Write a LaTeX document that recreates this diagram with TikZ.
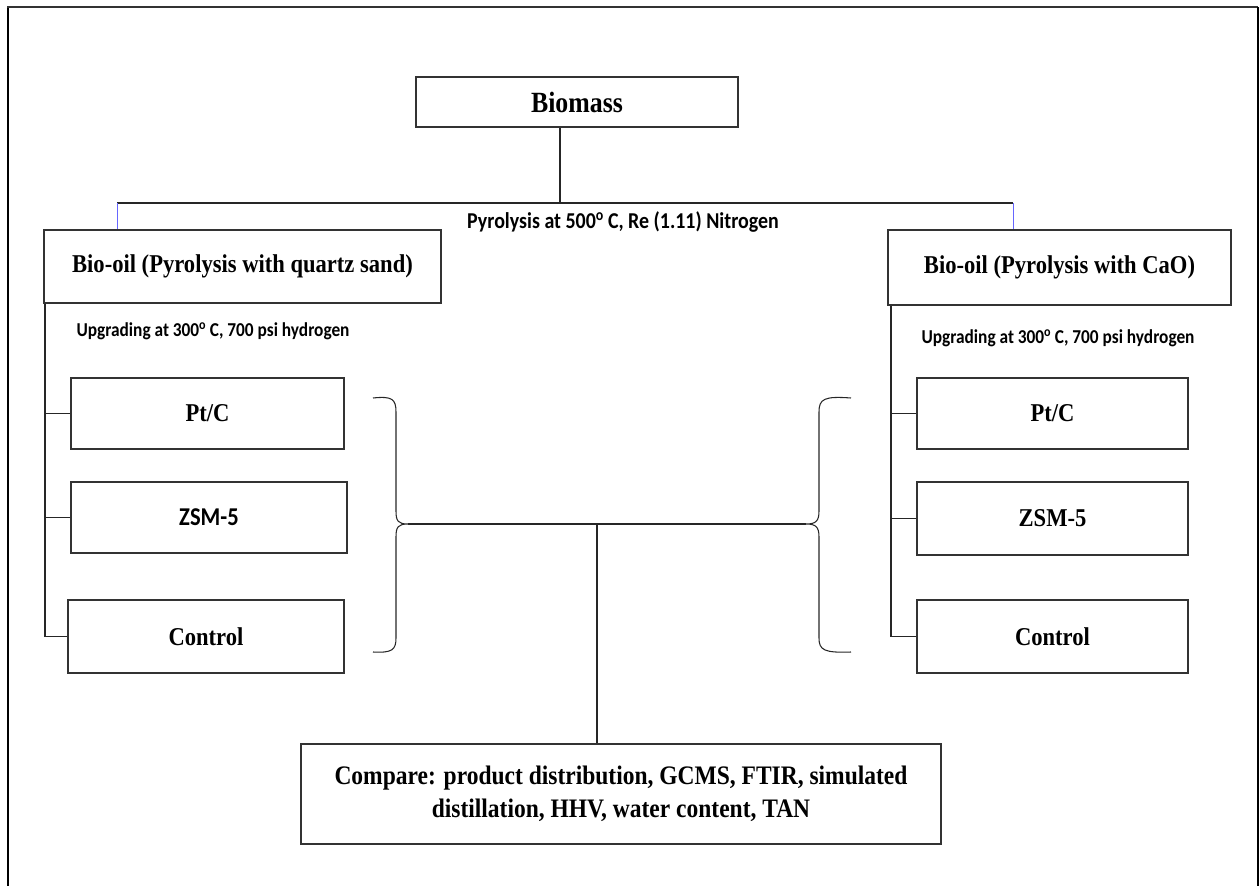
\documentclass[tikz,border=0pt]{standalone}
\usepackage{fontspec}
\setmainfont{Liberation Serif}[FakeStretch=0.88]
\newfontfamily\calibri{Carlito}[FakeStretch=0.88]
\begin{document}
\begin{tikzpicture}[x=0.02cm, y=-0.02cm,
    box/.style={draw=black!80, line width=0.8pt, inner sep=0pt, align=center,
      font=\fontsize{14.6}{18}\selectfont\bfseries},
    lbl/.style={font=\calibri\bfseries\fontsize{11.2}{14}\selectfont},
    link/.style={black!85, line width=0.7pt}]
  \useasboundingbox (0,0) rectangle (1259,886);
  % outer frame (open at the bottom)
  \draw[line width=1.4pt] (8,886) -- (8,7);
  \draw[line width=1.1pt, black!80] (7,7) -- (1258,7);
  \draw[line width=0.8pt] (1258,7) -- (1258,886);

  % top: biomass and the two bio-oils
  \node[box, font=\fontsize{16.7}{18}\selectfont\bfseries, minimum width=6.44cm, minimum height=1.0cm]
    (bm) at (577,102) {Biomass};
  \node[box, minimum width=7.94cm, minimum height=1.46cm] (oilL) at (242.5,266.5)
    {Bio-oil (Pyrolysis with quartz sand)};
  \node[box, minimum width=6.86cm, minimum height=1.5cm] (oilR) at (1059.5,267.5)
    {Bio-oil (Pyrolysis with CaO)};
  \coordinate (split) at (560,203);
  \coordinate (dropL) at (117,203);
  \coordinate (dropR) at (1013,203);
  \draw[link] (bm.south -| split) -- (split);
  \draw[link] (dropL) -- (dropR);
  \draw[blue!60, line width=0.5pt] (dropL) -- (dropL |- oilL.north);
  \draw[blue!60, line width=0.5pt] (dropR) -- (dropR |- oilR.north);
  \node[lbl, font=\calibri\bfseries\fontsize{12.9}{14}\selectfont] (pyro) at (623,222)
    {Pyrolysis at 500\textsuperscript{o}\,C, Re (1.11) Nitrogen};

  % left branch: catalysts
  \node[lbl] (upL) at (213,331) {Upgrading at 300\textsuperscript{o}\,C, 700 psi hydrogen};
  \node[box, minimum width=5.46cm, minimum height=1.42cm] (ptL) at (207.5,413.5) {Pt/C};
  \node[box, minimum width=5.52cm, minimum height=1.42cm,
    font=\calibri\bfseries\fontsize{14.6}{16}\selectfont] (zsmL) at (209,517.5) {ZSM-5};
  \node[box, minimum width=5.52cm, minimum height=1.46cm] (ctlL) at (206,636.5) {Control};
  \coordinate (spineL) at (45,0);
  \draw[link] (oilL.south -| spineL) |- (ctlL.west);
  \draw[link] (ptL.west -| spineL) -- (ptL.west);
  \draw[link] (zsmL.west -| spineL) -- (zsmL.west);

  % right branch: catalysts
  \node[lbl] (upR) at (1058,338) {Upgrading at 300\textsuperscript{o}\,C, 700 psi hydrogen};
  \node[box, minimum width=5.42cm, minimum height=1.42cm] (ptR) at (1052.5,413.5) {Pt/C};
  \node[box, minimum width=5.42cm, minimum height=1.46cm] (zsmR) at (1052.5,518.5) {ZSM-5};
  \node[box, minimum width=5.42cm, minimum height=1.46cm] (ctlR) at (1052.5,636.5) {Control};
  \coordinate (spineR) at (891,0);
  \draw[link] (oilR.south -| spineR) |- (ctlR.west);
  \draw[link] (ptR.west -| spineR) -- (ptR.west);
  \draw[link] (zsmR.west -| spineR) -- (zsmR.west);

  % braces and the joining line
  \coordinate (tipL) at (408,524);
  \coordinate (tipR) at (806,524);
  \draw[link, line width=0.6pt] (373,398) .. controls (392,396) and (396,399) .. (396,412)
    -- (396,511) .. controls (396,521) and (398,524) .. (tipL)
    .. controls (398,524) and (396,527) .. (396,537)
    -- (396,638) .. controls (396,650) and (392,653) .. (373,652);
  \draw[link, line width=0.6pt] (851,398) .. controls (824,396) and (819,399) .. (819,412)
    -- (819,511) .. controls (819,521) and (816,524) .. (tipR)
    .. controls (816,524) and (819,527) .. (819,537)
    -- (819,638) .. controls (819,650) and (824,653) .. (851,652);
  \draw[link] (tipL) -- (tipR);

  % comparison
  \node[box, minimum width=12.8cm, minimum height=2.0cm,
    font=\fontsize{15.2}{18.5}\selectfont\bfseries] (cmp) at (621,794)
    {Compare: product distribution, GCMS, FTIR, simulated\\
     distillation, HHV, water content, TAN};
  \coordinate (trunk) at (597,524);
  \draw[link] (trunk) -- (trunk |- cmp.north);
\end{tikzpicture}
\end{document}
